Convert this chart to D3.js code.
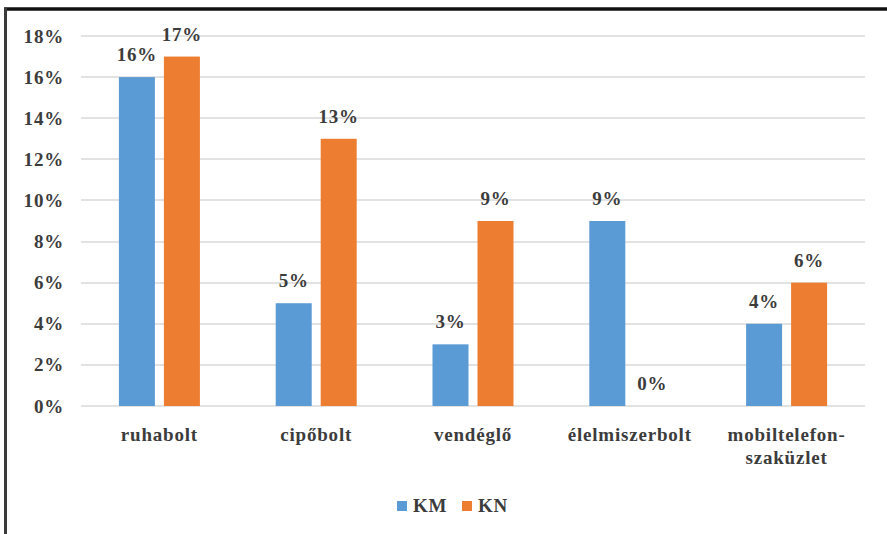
<!DOCTYPE html>
<html><head><meta charset="utf-8">
<script src="https://cdn.jsdelivr.net/npm/d3@7"></script>
<style>body{margin:0;background:#fff}svg{display:block}</style>
</head><body><svg id="c" width="887" height="534"></svg>
<script>
const categories = [["ruhabolt"],["cipőbolt"],["vendéglő"],["élelmiszerbolt"],["mobiltelefon-","szaküzlet"]];
const seriesNames = ["KM","KN"];
const KM = [16,5,3,9,4];
const KN = [17,13,9,0,6];
const yTicks = [0,2,4,6,8,10,12,14,16,18];
const colors = ["#5B9BD5","#ED7D31"];

const svg = d3.select("#c");
const txtCol = "#3c3c3c";
function styleText(sel, size){
  return sel.style("font-family","Liberation Serif").attr("font-weight","bold").attr("font-size",size)
    .style("letter-spacing","0.8px").attr("fill",txtCol);
}
// frame
svg.append("line").attr("x1",4).attr("x2",887).attr("y1",9).attr("y2",9).attr("stroke","#111").attr("stroke-width",3.5);
svg.append("line").attr("x1",5.5).attr("x2",5.5).attr("y1",8).attr("y2",534).attr("stroke","#3a3a3a").attr("stroke-width",3);

const x0 = d3.scaleBand().domain(d3.range(categories.length)).range([81,865]);
const y = d3.scaleLinear().domain([0,18]).range([406,36]);

// gridlines
svg.append("g").selectAll("line").data(yTicks).join("line")
  .attr("x1",81).attr("x2",865).attr("y1",d=>Math.round(y(d))).attr("y2",d=>Math.round(y(d)))
  .attr("stroke","#e2e2e2").attr("stroke-width",2);

// y tick labels
styleText(svg.append("g").selectAll("text").data(yTicks).join("text")
  .attr("x",64).attr("y",d=>y(d)+6.5).attr("text-anchor","end"), 19)
  .text(d=>d+"%");

const barW = 36, gap = 9;
[KM, KN].forEach((vals,si)=>{
  const g = svg.append("g");
  const xOff = si===0 ? -gap/2-barW : gap/2;
  g.selectAll("rect").data(vals).join("rect")
    .attr("x",(d,i)=>x0(i)+x0.bandwidth()/2+xOff)
    .attr("y",d=>y(d)).attr("width",barW).attr("height",d=>y(0)-y(d))
    .attr("fill",colors[si]);
  styleText(g.selectAll("text").data(vals).join("text")
    .attr("x",(d,i)=>x0(i)+x0.bandwidth()/2+xOff+barW/2)
    .attr("y",d=>y(d)-16)
    .attr("text-anchor","middle"), 19).text(d=>d+"%");
});

// category labels
const cg = svg.append("g");
categories.forEach((lines,i)=>{
  const cx = x0(i)+x0.bandwidth()/2;
  const t = styleText(cg.append("text").attr("x",cx).attr("y",441).attr("text-anchor","middle"), 19);
  lines.forEach((l,j)=>t.append("tspan").attr("x",cx).attr("dy",j?23:0).text(l));
});

// legend
const legend = svg.append("g");
const lx = [397, 462];
seriesNames.forEach((n,i)=>{
  legend.append("rect").attr("x",lx[i]).attr("y",501).attr("width",10).attr("height",10).attr("fill",colors[i]);
  styleText(legend.append("text").attr("x",lx[i]+16).attr("y",512), 19).text(n);
});
</script></body></html>
